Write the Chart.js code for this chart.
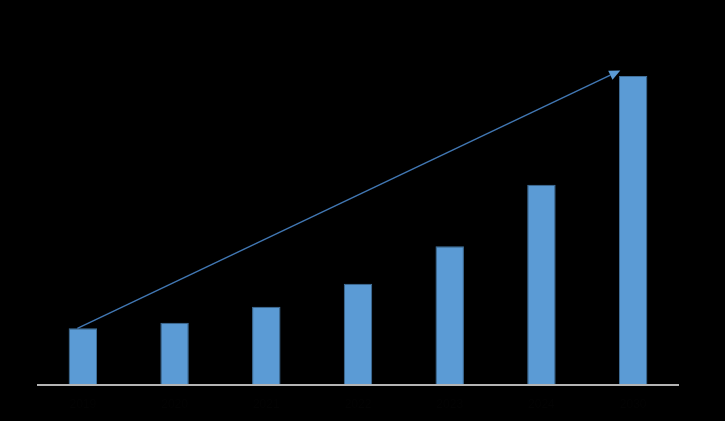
<!DOCTYPE html>
<html>
<head>
<meta charset="utf-8">
<script src="https://cdn.jsdelivr.net/npm/chart.js@4"></script>
<style>
  html, body { margin: 0; padding: 0; background: #000; }
  #wrap { width: 725px; height: 421px; }
</style>
</head>
<body>
<div id="wrap"><canvas id="chart"></canvas></div>
<script>
// categories (labels are drawn near-black on black in the reference)
const categories = ['2019', '2020', '2021', '2022', '2023', '2024', '2030'];
const marketValues = [56.7, 62.3, 78.3, 101.3, 138.7, 200.3, 309];
const yRange = [0, 350];
// trend arrow, in category index / value units
const arrowFrom = [-0.06, 56.7];
const arrowTo = [5.86, 314.5];

// baseline, hidden labels and the trend arrow
const decorations = {
    id: 'decorations',
    afterDatasetsDraw(chart) {
        const ctx = chart.ctx;
        const area = chart.chartArea;
        const x = chart.scales.x;
        const y = chart.scales.y;

        ctx.save();
        ctx.strokeStyle = '#b4b4b4';
        ctx.lineWidth = 2;
        ctx.beginPath();
        ctx.moveTo(area.left, area.bottom);
        ctx.lineTo(area.right, area.bottom);
        ctx.stroke();

        ctx.fillStyle = '#030303';
        ctx.font = '12px "Liberation Sans", Arial, sans-serif';
        ctx.textAlign = 'center';
        ctx.textBaseline = 'top';
        categories.forEach((c, i) => ctx.fillText(c, x.getPixelForValue(i), area.bottom + 14));

        const x1 = x.getPixelForValue(arrowFrom[0]), y1 = y.getPixelForValue(arrowFrom[1]);
        const x2 = x.getPixelForValue(arrowTo[0]), y2 = y.getPixelForValue(arrowTo[1]);
        const ang = Math.atan2(y2 - y1, x2 - x1);
        const head = 11, half = 5;
        const bx = x2 - head * Math.cos(ang), by = y2 - head * Math.sin(ang);

        ctx.strokeStyle = '#4177b3';
        ctx.lineWidth = 1.4;
        ctx.beginPath();
        ctx.moveTo(x1, y1);
        ctx.lineTo(bx, by);
        ctx.stroke();

        ctx.fillStyle = '#5b9bd5';
        ctx.beginPath();
        ctx.moveTo(x2, y2);
        ctx.lineTo(bx + half * Math.sin(ang), by - half * Math.cos(ang));
        ctx.lineTo(bx - half * Math.sin(ang), by + half * Math.cos(ang));
        ctx.closePath();
        ctx.fill();
        ctx.restore();
    }
};

new Chart(document.getElementById('chart'), {
    type: 'bar',
    data: {
        labels: categories,
        datasets: [{
            data: marketValues,
            backgroundColor: '#5b9bd5',
            borderColor: '#41719c',
            borderWidth: 1,
            barPercentage: 0.62,
            categoryPercentage: 0.5
        }]
    },
    options: {
        responsive: true,
        maintainAspectRatio: false,
        animation: false,
        layout: { padding: { left: 37, right: 46, top: 35, bottom: 36 } },
        plugins: { legend: { display: false }, tooltip: { enabled: false } },
        scales: {
            x: { display: false },
            y: { display: false, min: yRange[0], max: yRange[1] }
        }
    },
    plugins: [decorations]
});
</script>
</body>
</html>
